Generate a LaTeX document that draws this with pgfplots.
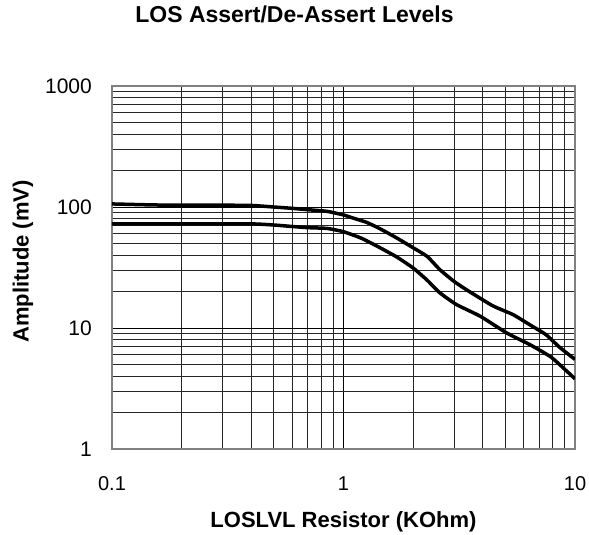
\documentclass[border=0pt]{standalone}
\usepackage{pgfplots}
\pgfplotsset{compat=1.18}
\usepackage{fontspec}
\setmainfont{Liberation Sans}
\begin{document}
\begin{tikzpicture}
\begin{axis}[
  scale only axis,
  width=463pt, height=363pt,
  xmode=log, ymode=log,
  xmin=0.1, xmax=10, ymin=1, ymax=1000,
  xtick={0.1,1,10}, xticklabels={0.1,1,10},
  ytick={1,10,100,1000}, yticklabels={1,10,100,1000},
  grid=both,
  major grid style={black, line width=0.8pt},
  minor grid style={black!85, line width=0.8pt},
  tick style={draw=none},
  axis line style={gray, line width=1.4pt},
  xticklabel style={font=\fontsize{20}{24}\selectfont, anchor=base, inner sep=0pt, yshift=-41pt},
  yticklabel style={font=\fontsize{21}{25}\selectfont, anchor=east, inner sep=0pt, xshift=-20pt},
  xlabel={LOSLVL Resistor (KOhm)},
  ylabel={Amplitude (mV)},
  xlabel style={font=\bfseries\fontsize{22}{26}\selectfont, at={(axis description cs:0.5,0)}, anchor=base, inner sep=0pt, yshift=-78pt},
  ylabel style={font=\bfseries\fontsize{22}{26}\selectfont, at={(axis description cs:-0.1922,0.5165)}, anchor=center, rotate=0, inner sep=0pt},
  title={LOS Assert/De-Assert Levels},
  title style={font=\bfseries\fontsize{23}{27}\selectfont, at={(axis description cs:0.3942,1)}, anchor=base, inner sep=0pt, yshift=57pt},
]
\addplot[black, line width=3.5pt, smooth, tension=0.3] coordinates {
(0.1,106) (0.15,104) (0.2,103.5) (0.3,103.5) (0.4,103) (0.5,100) (0.6,97.5) (0.7,95) (0.85,92) (1,86) (1.1,81) (1.26,74.6) (1.44,66) (1.7,55.4) (2.0,46) (2.3,39) (2.61,30.3) (3.0,24.3) (3.4,20.7) (4.4,15.3) (5.4,12.9) (6.4,10.6) (7.5,8.8) (8.6,6.9) (10,5.5)
};
\addplot[black, line width=3.5pt, smooth, tension=0.3] coordinates {
(0.1,72.5) (0.2,72.5) (0.4,72.5) (0.5,71) (0.6,69) (0.7,67.5) (0.85,66.5) (1,62.5) (1.2,55) (1.44,46) (1.7,38.6) (2.0,31.3) (2.29,25) (2.61,19.5) (3.08,15.6) (3.9,12.5) (5.07,9.1) (6.4,7.27) (7.8,5.83) (8.6,4.97) (10,3.8)
};
\end{axis}
\path ([shift={(-112pt,-86pt)}]current axis.south west) rectangle ([shift={(14pt,86pt)}]current axis.north east);
\end{tikzpicture}
\end{document}
